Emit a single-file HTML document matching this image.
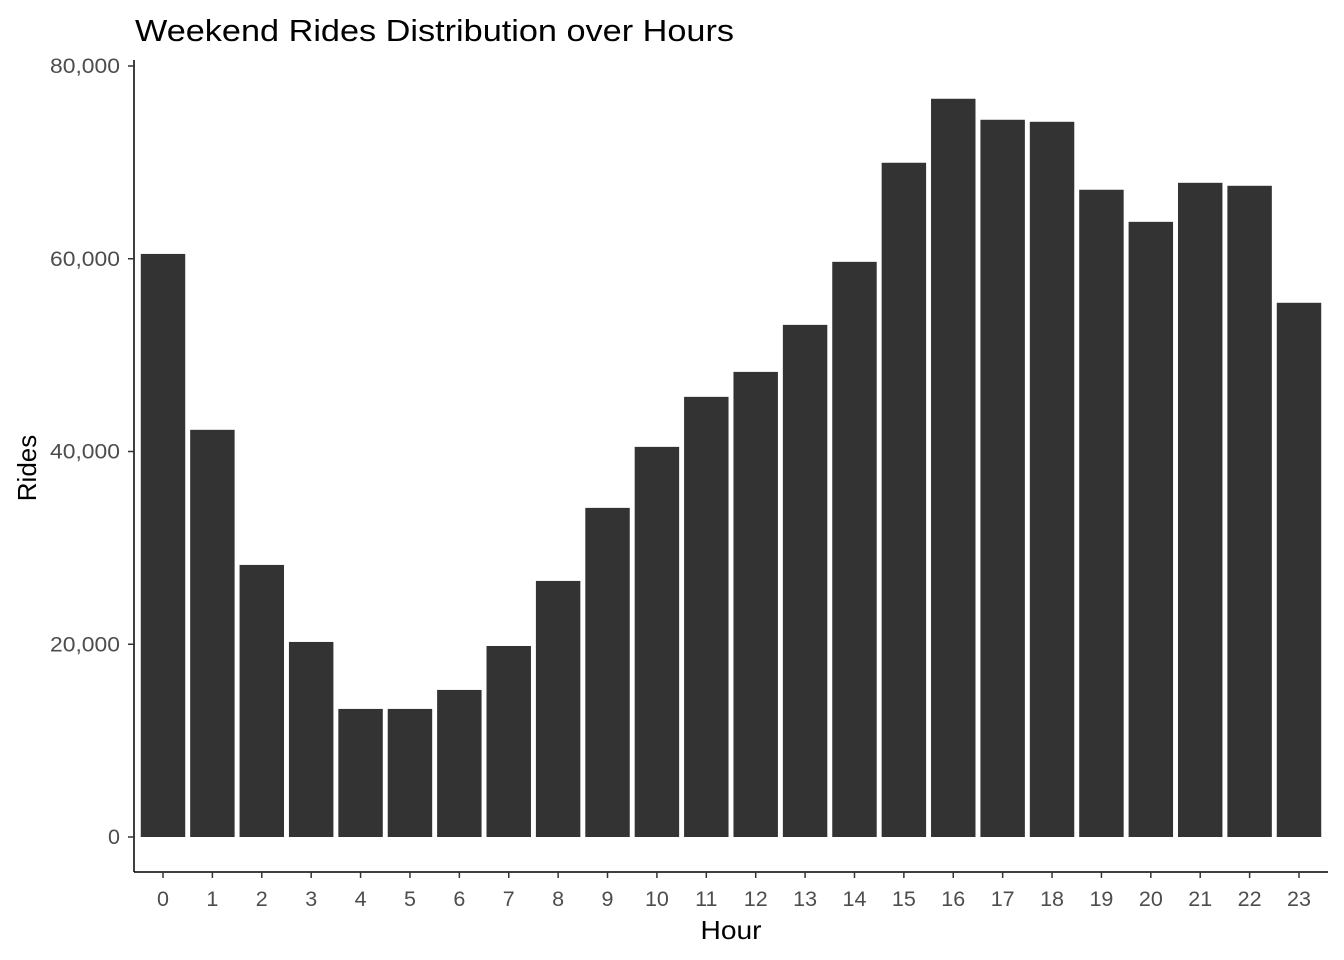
<!DOCTYPE html>
<html><head><meta charset="utf-8"><style>
body{margin:0;background:#fff;}
svg{display:block;font-family:"Liberation Sans",Arial,sans-serif;}
</style></head><body>
<svg id="chart" width="1344" height="960">
<text x="135" y="41" font-size="31" fill="#000" textLength="599" lengthAdjust="spacingAndGlyphs">Weekend Rides Distribution over Hours</text>
<g id="bars"></g>
<g id="yaxis"></g>
<g id="xaxis"></g>
<text x="731" y="939" font-size="26" text-anchor="middle" fill="#000" textLength="61" lengthAdjust="spacingAndGlyphs">Hour</text>
<text transform="translate(36,468) rotate(-90)" font-size="26" text-anchor="middle" fill="#000">Rides</text>
</svg>
<script>
const hours = ["0","1","2","3","4","5","6","7","8","9","10","11","12","13","14","15","16","17","18","19","20","21","22","23"];
const rides = [60500,42250,28230,20240,13290,13290,15260,19820,26570,34150,40480,45670,48260,53140,59680,69960,76600,74420,74210,67160,63830,67880,67570,55430];
const yTicks = [0,20000,40000,60000,80000];
const yTickLabels = ["0","20,000","40,000","60,000","80,000"];

const NS="http://www.w3.org/2000/svg";
const y0=837, yPerUnit=(837-66)/80000;
function yScale(v){return y0 - v*yPerUnit;}
const step=(1299-163)/23;
function xScale(i){return 163 + i*step;}
const bw=step*0.9;
function mk(tag,attrs,parent){const e=document.createElementNS(NS,tag);for(const k in attrs)e.setAttribute(k,attrs[k]);parent.appendChild(e);return e;}
const bars=document.getElementById('bars'), ya=document.getElementById('yaxis'), xa=document.getElementById('xaxis');
rides.forEach((v,i)=>{
  const r=mk('rect',{x:xScale(i)-bw/2,y:yScale(v),width:bw,height:yScale(0)-yScale(v),fill:'#333333'},bars);
  
  
});
const yl=mk('line',{x1:134,y1:60,x2:134,y2:872,stroke:'#000','stroke-width':1.5},ya);


yTicks.forEach((t,i)=>{
  const y=yScale(t);
  mk('line',{x1:128,y1:y,x2:134,y2:y,stroke:'#333','stroke-width':1.5},ya);
  const attrs={x:120,y:y+7,'font-size':21.5,'text-anchor':'end',fill:'#4d4d4d'};
  if(yTickLabels[i].length>2){attrs.textLength=70;attrs.lengthAdjust='spacingAndGlyphs';}
  const tx=mk('text',attrs,ya);
  tx.textContent=yTickLabels[i];
  
  
});
const xl=mk('line',{x1:134,y1:872,x2:1328,y2:872,stroke:'#000','stroke-width':1.5},xa);


hours.forEach((h,i)=>{
  const x=xScale(i);
  mk('line',{x1:x,y1:872,x2:x,y2:878,stroke:'#333','stroke-width':1.5},xa);
  const tx=mk('text',{x:x,y:906,'font-size':21.5,'text-anchor':'middle',fill:'#4d4d4d'},xa);
  tx.textContent=h;
  
  
});
</script>
</body></html>
